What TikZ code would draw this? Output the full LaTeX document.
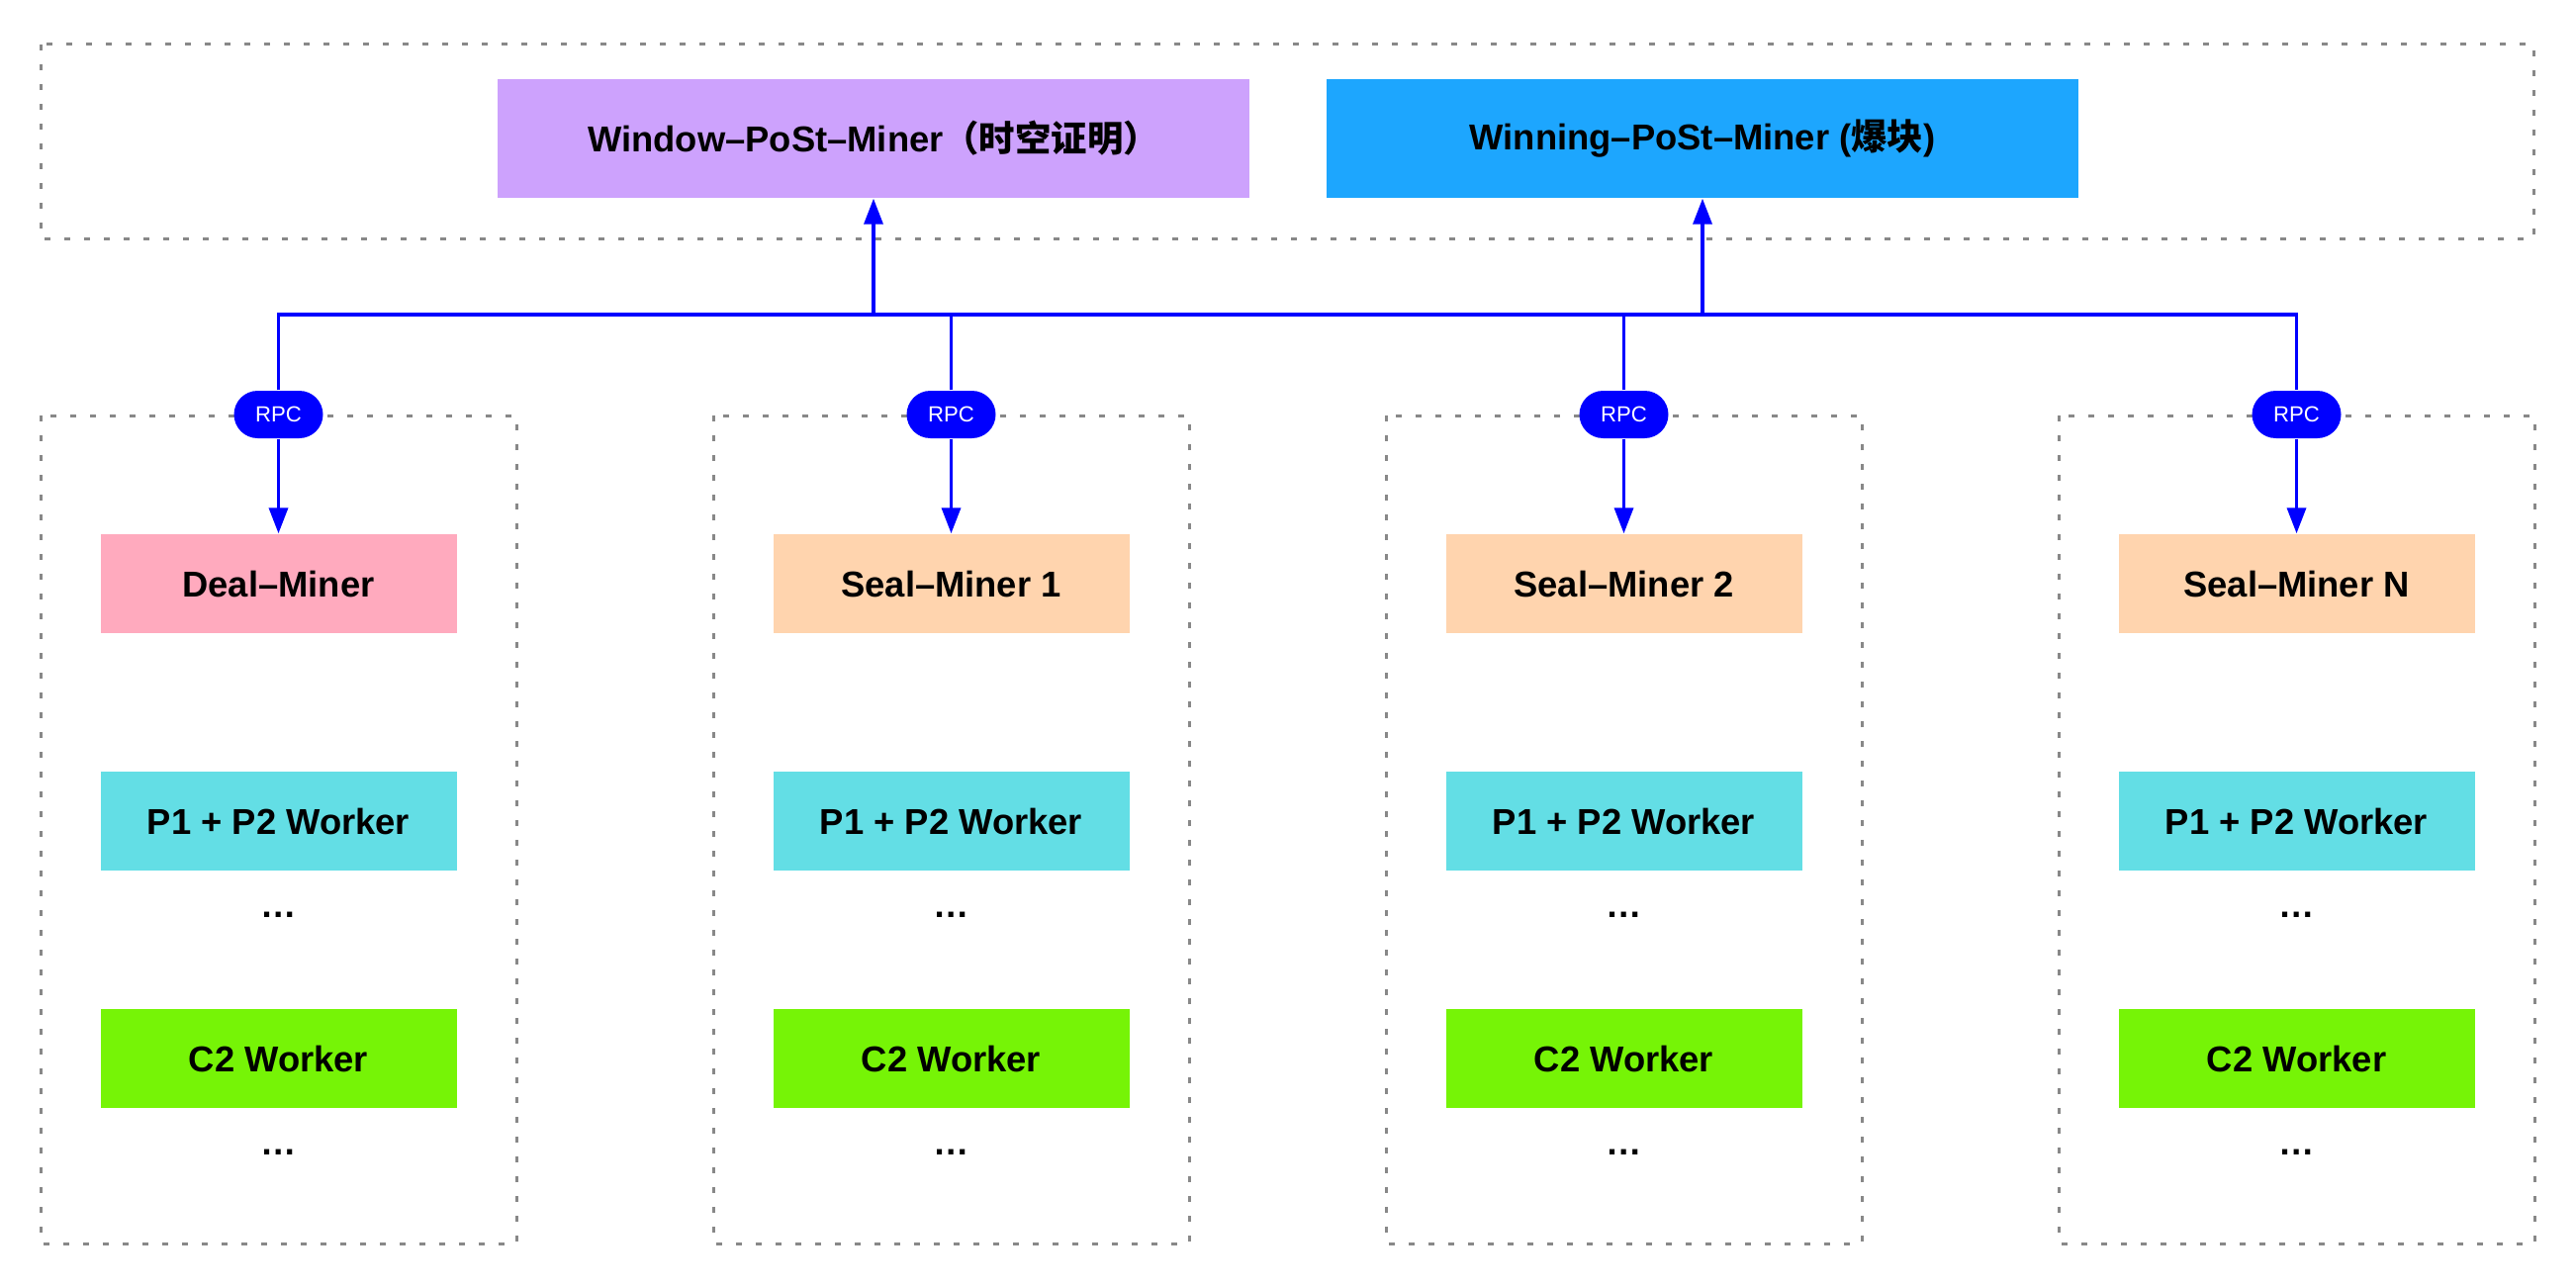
\documentclass[tikz,border=0pt]{standalone}
\usepackage{fontspec}
\setmainfont{Liberation Sans}
\newfontfamily\cjk{Noto Sans CJK SC}
\usetikzlibrary{arrows.meta}

\definecolor{windowpurple}{RGB}{205,162,253}
\definecolor{winningblue}{RGB}{29,166,254}
\definecolor{dealpink}{RGB}{255,170,190}
\definecolor{sealpeach}{RGB}{255,212,174}
\definecolor{workercyan}{RGB}{99,222,229}
\definecolor{workergreen}{RGB}{118,244,6}
\definecolor{rpcblue}{RGB}{0,0,255}
\definecolor{groupgray}{RGB}{136,136,136}

\begin{document}
\begin{tikzpicture}[
  box/.style={minimum width=3.6cm, minimum height=1cm, inner sep=0pt, font=\fontsize{10.35}{12}\selectfont\bfseries},
  topbox/.style={box, minimum width=7.6cm, minimum height=1.2cm},
  groupbox/.style={draw=groupgray, line width=0.03cm, dash pattern=on 0.06cm off 0.14cm},
  rpc/.style={fill=rpcblue, text=white, rounded corners=0.24cm, minimum width=0.9cm, minimum height=0.48cm, inner sep=0pt, font=\fontsize{6.3}{7}\selectfont},
  link/.style={draw=rpcblue, line width=0.035cm},
  arrow/.style={link, -{Triangle[length=0.26cm, width=0.19cm]}},
  more/.style={anchor=base, font=\fontsize{10.35}{12}\selectfont\bfseries}
]
  \useasboundingbox (0cm,0cm) rectangle (26.04cm,-13.02cm);

  % top group
  \draw[groupbox] (0.415cm,-0.45cm) rectangle (25.61cm,-2.41cm);
  \node[topbox, fill=windowpurple] (window) at (8.83cm,-1.4cm) {Window–PoSt–Miner{\cjk（时空证明）}};
  \node[topbox, fill=winningblue] (winning) at (17.21cm,-1.4cm) {Winning–PoSt–Miner ({\cjk 爆块})};

  % column 1
  \draw[groupbox] (0.41cm,-4.2cm) rectangle (5.22cm,-12.57cm);
  \node[rpc] (rpc1) at (2.815cm,-4.19cm) {RPC};
  \node[box, fill=dealpink] (deal) at (2.815cm,-5.9cm) {Deal–Miner};
  \node[box, fill=workercyan] (p1p2a) at (2.815cm,-8.3cm) {P1 + P2 Worker};
  \node[more] (dotsa1) at (2.815cm,-9.27cm) {\ldots};
  \node[box, fill=workergreen] (c2a) at (2.815cm,-10.7cm) {C2 Worker};
  \node[more] (dotsa2) at (2.815cm,-11.67cm) {\ldots};

  % column 2
  \draw[groupbox] (7.21cm,-4.2cm) rectangle (12.02cm,-12.57cm);
  \node[rpc] (rpc2) at (9.615cm,-4.19cm) {RPC};
  \node[box, fill=sealpeach] (seal1) at (9.615cm,-5.9cm) {Seal–Miner 1};
  \node[box, fill=workercyan] (p1p2b) at (9.615cm,-8.3cm) {P1 + P2 Worker};
  \node[more] (dotsb1) at (9.615cm,-9.27cm) {\ldots};
  \node[box, fill=workergreen] (c2b) at (9.615cm,-10.7cm) {C2 Worker};
  \node[more] (dotsb2) at (9.615cm,-11.67cm) {\ldots};

  % column 3
  \draw[groupbox] (14.01cm,-4.2cm) rectangle (18.82cm,-12.57cm);
  \node[rpc] (rpc3) at (16.415cm,-4.19cm) {RPC};
  \node[box, fill=sealpeach] (seal2) at (16.415cm,-5.9cm) {Seal–Miner 2};
  \node[box, fill=workercyan] (p1p2c) at (16.415cm,-8.3cm) {P1 + P2 Worker};
  \node[more] (dotsc1) at (16.415cm,-9.27cm) {\ldots};
  \node[box, fill=workergreen] (c2c) at (16.415cm,-10.7cm) {C2 Worker};
  \node[more] (dotsc2) at (16.415cm,-11.67cm) {\ldots};

  % column 4
  \draw[groupbox] (20.81cm,-4.2cm) rectangle (25.62cm,-12.57cm);
  \node[rpc] (rpc4) at (23.215cm,-4.19cm) {RPC};
  \node[box, fill=sealpeach] (sealn) at (23.215cm,-5.9cm) {Seal–Miner N};
  \node[box, fill=workercyan] (p1p2d) at (23.215cm,-8.3cm) {P1 + P2 Worker};
  \node[more] (dotsd1) at (23.215cm,-9.27cm) {\ldots};
  \node[box, fill=workergreen] (c2d) at (23.215cm,-10.7cm) {C2 Worker};
  \node[more] (dotsd2) at (23.215cm,-11.67cm) {\ldots};

  % rpc bus
  \coordinate (bus1) at (2.815cm,-3.18cm);
  \coordinate (bus4) at (23.215cm,-3.18cm);
  \draw[link] (rpc1.north) -- (bus1) -- (bus4) -- (rpc4.north);
  \draw[link] (rpc2.north) -- (rpc2.north |- bus1);
  \draw[link] (rpc3.north) -- (rpc3.north |- bus1);
  \draw[arrow] (window.south |- bus1) -- (window.south);
  \draw[arrow] (winning.south |- bus1) -- (winning.south);
  \draw[arrow] (rpc1.south) -- (deal.north);
  \draw[arrow] (rpc2.south) -- (seal1.north);
  \draw[arrow] (rpc3.south) -- (seal2.north);
  \draw[arrow] (rpc4.south) -- (sealn.north);
\end{tikzpicture}
\end{document}
